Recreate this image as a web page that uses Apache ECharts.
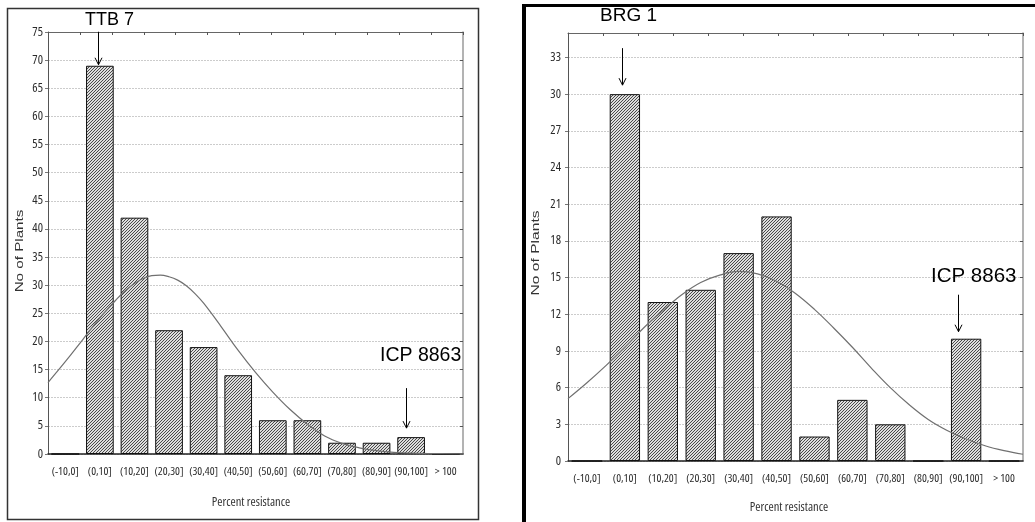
<!DOCTYPE html>
<html><head><meta charset="utf-8">
<script src="https://cdn.jsdelivr.net/npm/echarts@6/dist/echarts.min.js"></script>
<style>html,body{margin:0;padding:0;background:#fff}#c{width:1035px;height:522px}</style>
</head><body><div id="c"></div>
<script>
// ---------- data ----------
const categories = ['(-10,0]','(0,10]','(10,20]','(20,30]','(30,40]','(40,50]','(50,60]','(60,70]','(70,80]','(80,90]','(90,100]','> 100'];
const ttb7Counts = [0, 69, 42, 22, 19, 14, 6, 6, 2, 2, 3, 0];
const brg1Counts = [0, 30, 13, 14, 17, 20, 2, 5, 3, 0, 10, 0];
// fitted normal curves: [percent resistance, no of plants]
const ttb7Curve = [[-10,12.7],[-5,16.4],[0,20.3],[5,24.2],[10,27.6],[12.5,29.1],[15,30.3],[17.5,31.2],[20,31.7],[22.5,31.8],[25,31.5],[27.5,30.9],[30,29.9],[32.5,28.5],[35,26.8],[40,22.7],[45,18.4],[50,14.5],[55,11.0],[60,7.9],[65,5.3],[70,3.2],[75,1.9],[80,1.1],[85,0.6],[90,0.3],[95,0.15],[100,0.08],[110,0.02]];
const brg1Curve = [[-10,5.1],[-5,6.4],[0,7.8],[5,9.3],[10,10.9],[15,12.3],[20,13.6],[25,14.6],[30,15.2],[35,15.5],[40,15.3],[45,14.7],[50,13.7],[55,12.4],[60,10.9],[65,9.3],[70,7.6],[75,6.0],[80,4.6],[85,3.4],[90,2.5],[95,1.8],[100,1.25],[105,0.85],[110,0.55]];
const ttb7YTicks = [0,5,10,15,20,25,30,35,40,45,50,55,60,65,70,75];
const brg1YTicks = [0,3,6,9,12,15,18,21,24,27,30,33];
const ttb7YMax = 75, brg1YMax = 35;
const percentRange = [-10, 110];
const xName = 'Percent resistance', yName = 'No of Plants';

// ---------- style ----------
const NARROW = "'Open Sans','Liberation Sans Narrow',sans-serif";
const SANS = "'Liberation Sans',Arial,sans-serif";
function hatch(){
  const c = document.createElement('canvas'); c.width = 3; c.height = 3;
  const g = c.getContext('2d');
  g.fillStyle = '#dedede'; g.fillRect(0,0,3,3);
  g.fillStyle = '#4a4a4a';
  for (let i=0;i<3;i++) g.fillRect(i, 2-i, 1, 1);
  return c;
}
const hatchImg = hatch();

const grids = [
  {left:48, top:32, width:415, height:422},
  {left:568, top:33, width:455, height:428}
];
function axesFor(gi, ticks, ymax, lblMargin){
  const xs = [
    {type:'category', gridIndex:gi, data:categories, position:'bottom',
     axisLine:{onZero:false, lineStyle:{color:'#222', width:1.5}}, axisTick:{show:false},
     axisLabel:{interval:0, margin:12, color:'#2a2a2a', fontFamily:NARROW, fontStyle:'condensed', fontSize:11.5}},
    {type:'value', gridIndex:gi, position:'top', min:0, max:13, interval:1,
     axisLine:{show:true, onZero:false, lineStyle:{color:'#666', width:1}},
     axisTick:{show:true, inside:true, length:3, lineStyle:{color:'#555'}},
     axisLabel:{show:false}, splitLine:{show:false}},
    {type:'value', gridIndex:gi, show:false, min:percentRange[0], max:percentRange[1],
     axisLine:{onZero:false}}
  ];
  const ys = [
    {type:'value', gridIndex:gi, min:ticks[0], max:ymax, interval:ticks[1]-ticks[0], position:'left',
     axisLine:{show:true, onZero:false, lineStyle:{color:'#555', width:1}},
     axisTick:{show:true, length:3, lineStyle:{color:'#777'}},
     axisLabel:{margin:lblMargin, color:'#2a2a2a', fontFamily:NARROW, fontStyle:'condensed', fontSize:12.5,
                showMaxLabel: ticks[ticks.length-1]===ymax},
     splitLine:{show:true, lineStyle:{color:'#cccccc', type:[2,1], width:1}}},
    {type:'value', gridIndex:gi, min:ticks[0], max:ymax, interval:ticks[1]-ticks[0], position:'right',
     axisLine:{show:true, onZero:false, lineStyle:{color:'#9a9a9a', width:1.5}},
     axisTick:{show:true, inside:true, length:3, lineStyle:{color:'#555'}},
     axisLabel:{show:false}, splitLine:{show:false}}
  ];
  return {xs, ys};
}
const A = axesFor(0, ttb7YTicks, ttb7YMax, 5);
const B = axesFor(1, brg1YTicks, brg1YMax, 7);

function barSeries(xi, yi, data){
  return {type:'bar', xAxisIndex:xi, yAxisIndex:yi, data, barCategoryGap:'20%',
    itemStyle:{color:{image:hatchImg, repeat:'repeat'}, borderColor:'#111', borderWidth:1},
    emphasis:{disabled:true}, z:2};
}
function curveSeries(xi, yi, data){
  return {type:'line', xAxisIndex:xi, yAxisIndex:yi, data, smooth:0.4, showSymbol:false,
    symbol:'none', lineStyle:{color:'#707070', width:1.2}, clip:true, z:3};
}

const chart = echarts.init(document.getElementById('c'), null, {renderer:'canvas'});
chart.setOption({
  animation:false,
  backgroundColor:'#fff',
  grid: grids,
  xAxis: A.xs.concat(B.xs),
  yAxis: A.ys.concat(B.ys),
  series: [
    barSeries(0, 0, ttb7Counts),
    curveSeries(2, 0, ttb7Curve),
    barSeries(3, 2, brg1Counts),
    curveSeries(5, 2, brg1Curve)
  ]
});

// ---------- annotations (arrows anchored on bars) ----------
const annotations = [
  {series:0, cat:1, value:ttb7Counts[1], gap:1, len:33, dx:-1.5},
  {series:0, cat:10, value:ttb7Counts[10], gap:9, len:40, dx:-5},
  {series:2, cat:1, value:brg1Counts[1], gap:9, len:37, dx:-3},
  {series:2, cat:10, value:brg1Counts[10], gap:7, len:37, dx:-8}
];
const g = [
  {type:'rect', shape:{x:7.5, y:8.5, width:471, height:511}, style:{fill:null, stroke:'#333', lineWidth:1.5}, z:0, silent:true},
  {type:'line', shape:{x1:524, y1:4, x2:524, y2:522}, style:{stroke:'#000', lineWidth:4}, silent:true},
  {type:'line', shape:{x1:522, y1:5.5, x2:1035, y2:5.5}, style:{stroke:'#000', lineWidth:3}, silent:true},
  {type:'text', x:85, y:20, style:{text:'TTB 7', font:'18px '+SANS, fill:'#000', textVerticalAlign:'middle'}},
  {type:'text', x:380, y:355.5, style:{text:'ICP 8863', font:'19.5px '+SANS, fill:'#000', textVerticalAlign:'middle'}},
  {type:'text', x:600, y:15.5, style:{text:'BRG 1', font:'19px '+SANS, fill:'#000', textVerticalAlign:'middle'}},
  {type:'text', x:931, y:276.7, style:{text:'ICP 8863', font:'20.5px '+SANS, fill:'#000', textVerticalAlign:'middle'}},
  {type:'text', x:20, y:251, rotation:Math.PI/2, scaleX:1.38, style:{text:yName, font:'11px '+SANS, fill:'#333', textAlign:'center', textVerticalAlign:'middle'}},
  {type:'text', x:536, y:253, rotation:Math.PI/2, scaleX:1.42, style:{text:yName, font:'11px '+SANS, fill:'#333', textAlign:'center', textVerticalAlign:'middle'}},
  {type:'text', x:251, y:502.7, style:{text:xName, font:"condensed 12.5px "+NARROW, fill:'#333', textAlign:'center', textVerticalAlign:'middle'}},
  {type:'text', x:789, y:507, style:{text:xName, font:"condensed 12.5px "+NARROW, fill:'#333', textAlign:'center', textVerticalAlign:'middle'}}
];
annotations.forEach(a => {
  const p = chart.convertToPixel({seriesIndex:a.series}, [a.cat, a.value]);
  const x = Math.round(p[0] + a.dx) + 0.5;
  const tip = p[1] - a.gap;
  g.push({type:'line', shape:{x1:x, y1:tip-a.len, x2:x, y2:tip}, style:{stroke:'#000', lineWidth:1}, silent:true, z:10});
  g.push({type:'polyline', shape:{points:[[x-3.5, tip-7],[x, tip],[x+3.5, tip-7]]}, style:{stroke:'#000', lineWidth:1, fill:null}, silent:true, z:10});
});
chart.setOption({graphic: g});
</script></body></html>
